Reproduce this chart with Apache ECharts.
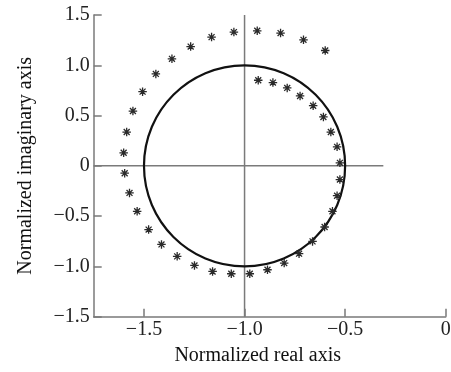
<!DOCTYPE html>
<html>
<head>
<meta charset="utf-8">
<script src="https://cdn.jsdelivr.net/npm/echarts@6/dist/echarts.min.js"></script>
<style>html,body{margin:0;padding:0;background:#fff}#c{width:451px;height:372px}</style>
</head>
<body>
<div id="c"></div>
<script>
// ---- data ----
const xTicks = [-1.5, -1.0, -0.5, 0];
const yTicks = [-1.5, -1.0, -0.5, 0, 0.5, 1.0, 1.5];
const xRange = [-1.75, 0];
const yRange = [-1.5, 1.5];
// asterisk points (normalized real, normalized imaginary)
const pointsX = [-0.599,-0.707,-0.821,-0.937,-1.053,-1.164,-1.268,-1.361,-1.441,-1.507,
                 -1.555,-1.586,-1.601,-1.596,-1.572,-1.534,-1.477,-1.413,-1.335,-1.249,
                 -1.159,-1.066,-0.974,-0.886,-0.803,-0.729,-0.662,-0.602,-0.563,-0.540,
                 -0.526,-0.526,-0.540,-0.571,-0.608,-0.659,-0.724,-0.788,-0.859,-0.932];
const pointsY = [1.147,1.253,1.320,1.343,1.330,1.280,1.186,1.064,0.914,0.738,
                 0.545,0.336,0.130,-0.073,-0.269,-0.452,-0.634,-0.781,-0.900,-0.990,
                 -1.050,-1.073,-1.073,-1.033,-0.967,-0.873,-0.751,-0.608,-0.452,-0.297,
                 -0.136,0.030,0.189,0.336,0.486,0.598,0.695,0.775,0.828,0.851];
// reference "unit circle" : center and radii (real, imaginary)
const circleCenter = [-1.0, 0];
const circleRadius = [0.5, 1.0];
// cross lines
const hLine = [[-1.75, 0], [-0.31, 0]];
const vLine = [[-1.0, -1.5], [-1.0, 1.5]];

const fmt = v => {
  if (Math.abs(v) < 1e-9) return '0';
  return (v < 0 ? '\u2212' : '') + Math.abs(v).toFixed(1);
};
const font = 'Liberation Serif';
const axisGray = '#7a7a7a';

const chart = echarts.init(document.getElementById('c'), null, {renderer: 'canvas'});
chart.setOption({
  animation: false,
  backgroundColor: '#fff',
  grid: {left: 93.7, top: 15, right: 5.3, bottom: 55.3, containLabel: false, outerBoundsMode: 'none'},
  xAxis: {
    type: 'value', min: xRange[0], max: xRange[1],
    name: 'Normalized real axis', nameLocation: 'middle', nameGap: 29,
    nameTextStyle: {fontFamily: font, fontSize: 20, color: '#111', padding: [0, 24, 0, 0]},
    axisLine: {onZero: false, lineStyle: {color: axisGray, width: 1.5}},
    axisTick: {inside: true, length: 8, customValues: xTicks, lineStyle: {color: axisGray, width: 1.5}},
    axisLabel: {customValues: xTicks, formatter: fmt, fontFamily: font, fontSize: 20, color: '#222', margin: 3},
    splitLine: {show: false}
  },
  yAxis: {
    type: 'value', min: yRange[0], max: yRange[1], interval: 0.5,
    name: 'Normalized imaginary axis', nameLocation: 'middle', nameGap: 58,
    nameTextStyle: {fontFamily: font, fontSize: 20, color: '#111'},
    axisLine: {onZero: false, lineStyle: {color: axisGray, width: 1.5}},
    axisTick: {inside: true, length: 8, lineStyle: {color: axisGray, width: 1.5}},
    axisLabel: {formatter: fmt, fontFamily: font, fontSize: 20, color: '#222', margin: 4},
    splitLine: {show: false}
  },
  series: [
    {
      type: 'line', data: hLine, symbol: 'none', silent: true,
      lineStyle: {color: axisGray, width: 1.5}, z: 1
    },
    {
      type: 'line', data: vLine, symbol: 'none', silent: true,
      lineStyle: {color: axisGray, width: 1.5}, z: 1
    },
    {
      type: 'custom', data: [circleCenter], silent: true, clip: false, z: 2,
      renderItem: function (params, api) {
        const c = api.coord([api.value(0), api.value(1)]);
        const s = api.size([circleRadius[0], circleRadius[1]]);
        return {
          type: 'ellipse',
          shape: {cx: c[0], cy: c[1], rx: s[0], ry: s[1]},
          style: {fill: 'none', stroke: '#111', lineWidth: 2.2}
        };
      }
    },
    {
      type: 'scatter', z: 3,
      data: pointsX.map((x, i) => [x, pointsY[i]]),
      symbol: 'path://M0,-5L0,5M-5,0L5,0M-3.5,-3.5L3.5,3.5M-3.5,3.5L3.5,-3.5',
      symbolSize: 8.5,
      itemStyle: {color: 'rgba(0,0,0,0)', borderColor: '#2a2a2a', borderWidth: 1.3, opacity: 1}
    }
  ]
});
</script>
</body>
</html>
